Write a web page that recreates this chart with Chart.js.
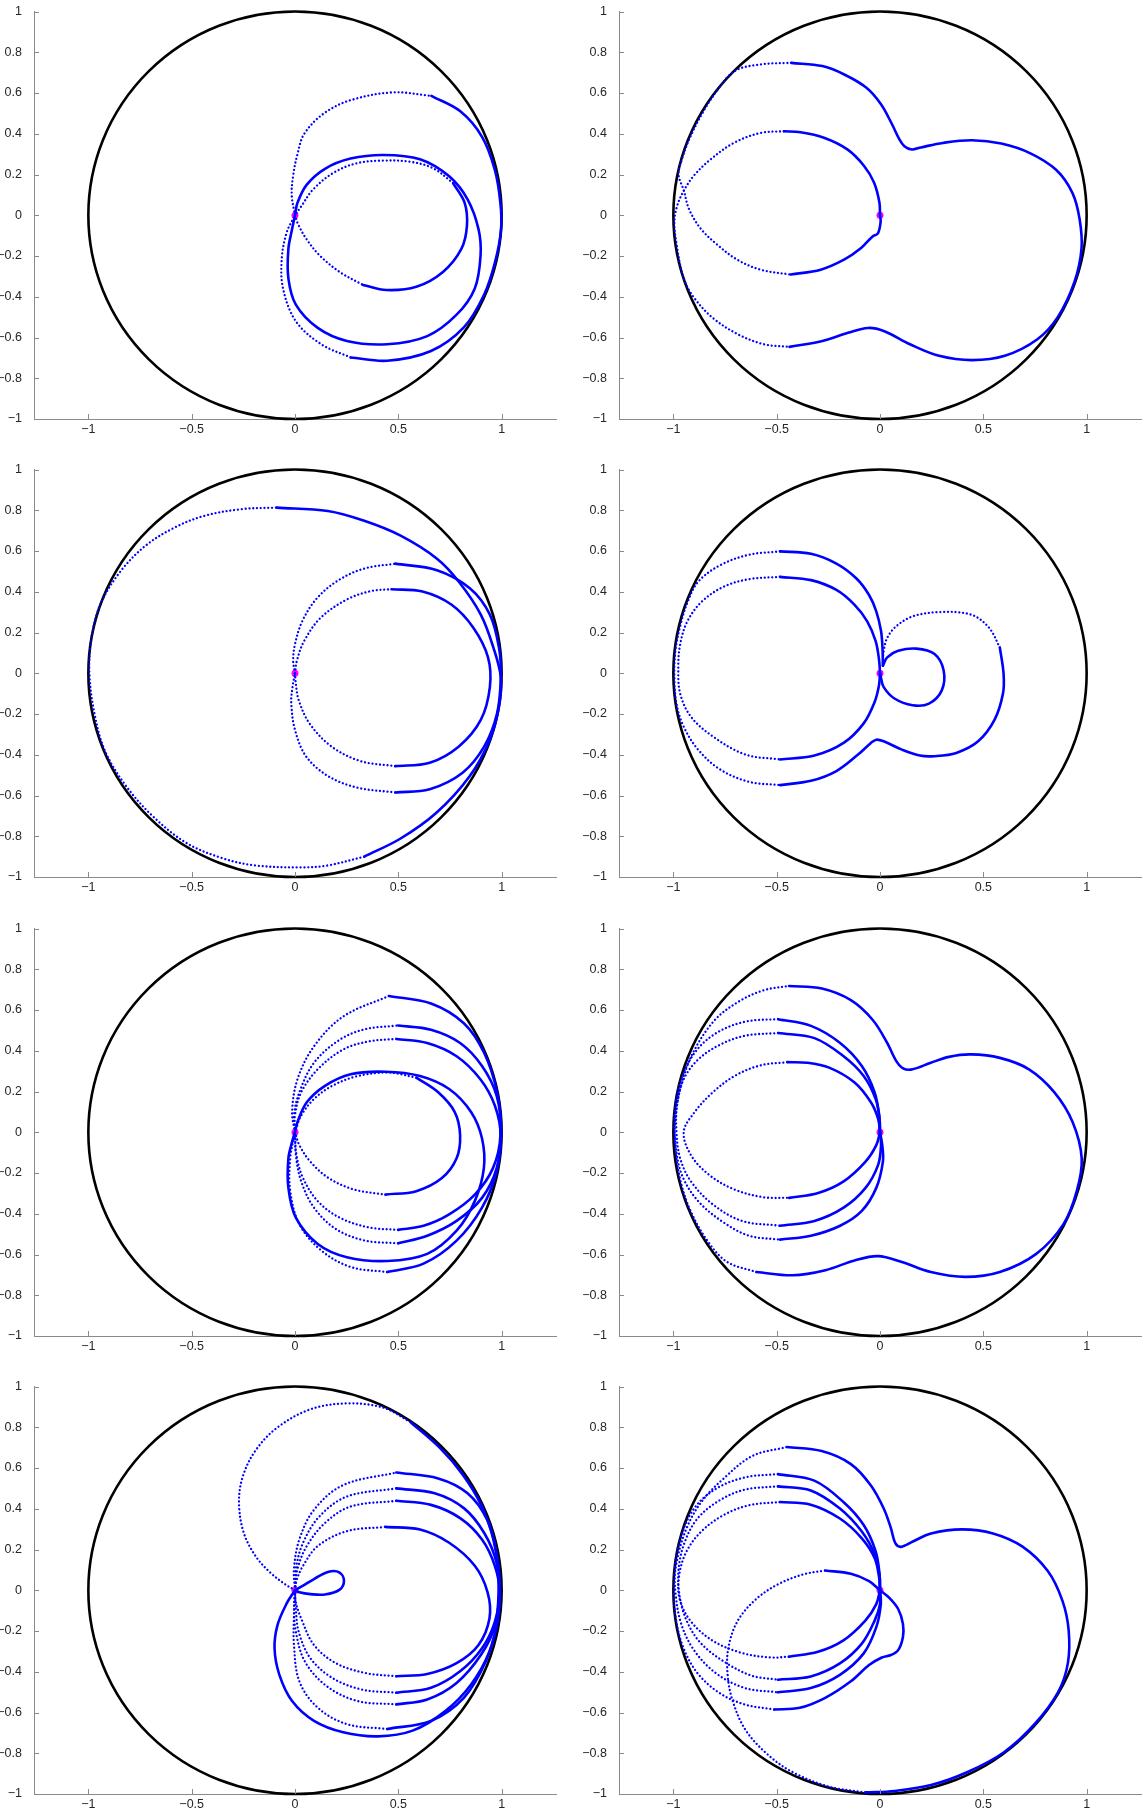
<!DOCTYPE html>
<html>
<head>
<meta charset="utf-8">
<script src="https://cdn.jsdelivr.net/npm/chart.js@4.4.1/dist/chart.umd.min.js"></script>
<style>
  html, body { margin: 0; padding: 0; background: #fff; overflow: hidden; }
  #page { position: relative; width: 1146px; height: 1815px; }
  .panel { position: absolute; }
</style>
</head>
<body>
<div id="page"></div>
<script>
// axes
const X_TICKS = [-1, -0.5, 0, 0.5, 1];
const Y_TICKS = [-1, -0.8, -0.6, -0.4, -0.2, 0, 0.2, 0.4, 0.6, 0.8, 1];
const X_LIM = [-1.263, 1.263];
const Y_LIM = [-1, 1];
const START = [[0, 0]];
const UNIT_R = 1;

// panel 1 (top left)
const P1_DOTTED = [
  [[0,0],[-0.016,0.1],[-0.008,0.2],[0.012,0.3],[0.045,0.4],[0.14,0.5],[0.27,0.565],[0.472,0.603],[0.66,0.586]],
  [[0.269,-0.698],[0.127,-0.633],[0.004,-0.52],[-0.058,-0.359],[-0.064,-0.213],[-0.04,-0.084],[0,0]],
  [[0,0],[0.015,-0.044],[0.055,-0.116],[0.119,-0.197],[0.216,-0.278],[0.329,-0.342]],
  [[0.765,0.158],[0.668,0.231],[0.555,0.263],[0.426,0.268],[0.297,0.255],[0.184,0.207],[0.087,0.126],[0.031,0.045],[0,0]]
];
const P1_SOLID = [
  [[0.66,0.586],[0.8,0.51],[0.905,0.385],[0.967,0.223],[0.994,0.06],[0.997,-0.07],[0.968,-0.23],[0.915,-0.39],[0.817,-0.55],[0.658,-0.666],[0.446,-0.714],[0.269,-0.698]],
  [[0,0],[0.012,0.061],[0.057,0.15],[0.145,0.228],[0.269,0.278],[0.428,0.296],[0.605,0.275],[0.746,0.191],[0.835,0.078],[0.888,-0.068],[0.898,-0.197],[0.87,-0.359],[0.782,-0.488],[0.64,-0.593],[0.446,-0.633],[0.251,-0.617],[0.11,-0.553],[0.004,-0.439],[-0.032,-0.31],[-0.032,-0.165],[-0.014,-0.068],[0,0]],
  [[0.329,-0.342],[0.442,-0.367],[0.587,-0.351],[0.716,-0.278],[0.805,-0.165],[0.832,-0.052],[0.821,0.061],[0.765,0.158]]
];

// panel 2 (top right)
const P2_DOTTED = [
  [[-0.465,0.412],[-0.578,0.404],[-0.707,0.355],[-0.82,0.274],[-0.901,0.194],[-0.949,0.121],[-0.981,0.048],[-0.995,-0.03],[-0.986,-0.132],[-0.95,-0.31],[-0.898,-0.407],[-0.809,-0.504],[-0.686,-0.585],[-0.562,-0.633],[-0.438,-0.646]],
  [[-0.429,0.748],[-0.58,0.74],[-0.703,0.708],[-0.79,0.61],[-0.86,0.5],[-0.92,0.38],[-0.96,0.27],[-0.975,0.2],[-0.949,0.121],[-0.925,0.032],[-0.868,-0.065],[-0.787,-0.145],[-0.691,-0.218],[-0.578,-0.267],[-0.432,-0.291]]
];
const P2_SOLID = [
  [[0,0],[-0.003,0.064],[-0.029,0.161],[-0.077,0.242],[-0.158,0.323],[-0.271,0.38],[-0.384,0.407],[-0.465,0.412]],
  [[-0.438,-0.646],[-0.279,-0.617],[-0.155,-0.577],[-0.058,-0.553],[0.021,-0.569],[0.145,-0.633],[0.286,-0.69],[0.445,-0.711],[0.604,-0.69],[0.76,-0.61],[0.86,-0.5],[0.94,-0.33],[0.975,-0.165],[0.966,-0.02],[0.931,0.11],[0.852,0.223],[0.728,0.304],[0.587,0.352],[0.445,0.368],[0.304,0.355],[0.198,0.333],[0.154,0.323],[0.118,0.339],[0.092,0.376],[0.057,0.449],[0.004,0.546],[-0.067,0.627],[-0.173,0.691],[-0.279,0.732],[-0.429,0.748]],
  [[-0.432,-0.291],[-0.287,-0.267],[-0.174,-0.218],[-0.093,-0.162],[-0.037,-0.105],[-0.01,-0.089],[0.003,-0.032],[0,0]]
];

// panel 3 (second row left)
const P3_DOTTED = [
  [[0.335,-0.9],[0.159,-0.943],[0.035,-0.953],[-0.194,-0.943],[-0.36,-0.905],[-0.53,-0.83],[-0.69,-0.7],[-0.82,-0.55],[-0.92,-0.38],[-0.97,-0.2],[-0.995,0],[-0.985,0.17],[-0.943,0.336],[-0.846,0.498],[-0.722,0.627],[-0.581,0.716],[-0.441,0.772],[-0.264,0.805],[-0.088,0.813]],
  [[0,0],[-0.009,0.061],[0,0.142],[0.035,0.255],[0.106,0.368],[0.211,0.457],[0.335,0.514],[0.485,0.538]],
  [[0.485,-0.585],[0.3,-0.561],[0.159,-0.504],[0.053,-0.407],[0,-0.278],[-0.018,-0.149],[-0.012,-0.068],[0,0]],
  [[0,0],[0.009,0.061],[0.044,0.158],[0.123,0.271],[0.247,0.36],[0.37,0.404],[0.467,0.412]],
  [[0.485,-0.456],[0.317,-0.431],[0.176,-0.359],[0.07,-0.246],[0.018,-0.132],[0.004,-0.052],[0,0]]
];
const P3_SOLID = [
  [[-0.088,0.813],[0.159,0.796],[0.335,0.748],[0.511,0.675],[0.687,0.562],[0.793,0.449],[0.899,0.288],[0.96,0.126],[0.996,-0.019],[0.987,-0.165],[0.943,-0.326],[0.846,-0.504],[0.687,-0.682],[0.511,-0.811],[0.335,-0.9]],
  [[0.485,0.538],[0.687,0.506],[0.846,0.417],[0.943,0.288],[0.987,0.126],[0.996,-0.019],[0.978,-0.197],[0.916,-0.359],[0.811,-0.488],[0.652,-0.569],[0.485,-0.585]],
  [[0.467,0.412],[0.617,0.401],[0.758,0.336],[0.863,0.223],[0.934,0.078],[0.943,-0.068],[0.899,-0.229],[0.793,-0.359],[0.652,-0.439],[0.485,-0.456]]
];

// panel 4 (second row right)
const P4_DOTTED = [
  [[-0.484,0.598],[-0.633,0.582],[-0.774,0.53],[-0.88,0.449],[-0.93,0.352],[-0.965,0.239],[-0.99,0.11],[-0.995,-0.019],[-0.985,-0.149],[-0.95,-0.262],[-0.88,-0.375],[-0.774,-0.472],[-0.633,-0.533],[-0.484,-0.549]],
  [[0.58,0.126],[0.528,0.223],[0.44,0.288],[0.281,0.3],[0.158,0.279],[0.079,0.231],[0.035,0.174],[0.018,0.11],[0.014,0.061],[0.014,0.037]],
  [[-0.484,0.473],[-0.633,0.462],[-0.756,0.425],[-0.862,0.352],[-0.932,0.255],[-0.967,0.142],[-0.976,0.029],[-0.967,-0.1],[-0.915,-0.213],[-0.809,-0.31],[-0.651,-0.399],[-0.484,-0.423]]
];
const P4_SOLID = [
  [[0.014,0.037],[0.012,0.126],[0.005,0.207],[-0.018,0.304],[-0.053,0.384],[-0.114,0.465],[-0.211,0.538],[-0.334,0.586],[-0.484,0.598]],
  [[-0.484,-0.549],[-0.334,-0.528],[-0.211,-0.48],[-0.106,-0.399],[-0.044,-0.342],[-0.018,-0.326],[0.018,-0.334],[0.106,-0.375],[0.193,-0.404],[0.264,-0.407],[0.369,-0.391],[0.475,-0.334],[0.554,-0.229],[0.595,-0.1],[0.598,-0.003],[0.58,0.126]],
  [[0.014,0.037],[0.035,0.078],[0.088,0.11],[0.176,0.121],[0.264,0.094],[0.308,0.013],[0.299,-0.084],[0.237,-0.149],[0.158,-0.157],[0.07,-0.124],[0.018,-0.068],[0.004,-0.019],[0,0]],
  [[0,0],[-0.004,0.061],[-0.021,0.158],[-0.062,0.255],[-0.123,0.336],[-0.211,0.409],[-0.334,0.457],[-0.484,0.473]],
  [[-0.484,-0.423],[-0.317,-0.404],[-0.176,-0.342],[-0.079,-0.246],[-0.026,-0.141],[-0.005,-0.06],[0,0]]
];

// panel 5 (third row left)
const P5_DOTTED = [
  [[0,0],[-0.014,0.099],[0.012,0.26],[0.092,0.422],[0.233,0.568],[0.454,0.669]],
  [[0.446,-0.686],[0.269,-0.661],[0.127,-0.58],[0.021,-0.451],[-0.023,-0.289],[-0.023,-0.128],[0,0]],
  [[0,0],[-0.005,0.082],[0.021,0.196],[0.092,0.341],[0.216,0.454],[0.34,0.506],[0.499,0.524]],
  [[0.499,-0.545],[0.34,-0.532],[0.198,-0.475],[0.092,-0.37],[0.03,-0.241],[0.004,-0.112],[0,0]],
  [[0,0],[0,0.082],[0.03,0.196],[0.11,0.309],[0.233,0.406],[0.357,0.446],[0.49,0.458]],
  [[0.499,-0.479],[0.357,-0.467],[0.216,-0.419],[0.11,-0.338],[0.039,-0.225],[0.007,-0.112],[0,0]],
  [[0,0],[0.021,-0.063],[0.074,-0.144],[0.163,-0.225],[0.286,-0.281],[0.437,-0.306]],
  [[0.587,0.268],[0.454,0.293],[0.304,0.276],[0.18,0.228],[0.092,0.163],[0.03,0.082],[0,0]]
];
const P5_SOLID = [
  [[0.454,0.669],[0.658,0.632],[0.817,0.535],[0.915,0.39],[0.978,0.196],[0.997,0.002],[0.976,-0.192],[0.905,-0.37],[0.782,-0.532],[0.622,-0.645],[0.446,-0.686]],
  [[0.499,0.524],[0.658,0.503],[0.799,0.438],[0.905,0.325],[0.976,0.179],[0.997,0.002],[0.976,-0.176],[0.905,-0.322],[0.782,-0.435],[0.64,-0.508],[0.499,-0.545]],
  [[0.49,0.458],[0.64,0.438],[0.782,0.373],[0.897,0.26],[0.967,0.131],[0.994,-0.015],[0.958,-0.176],[0.87,-0.306],[0.746,-0.403],[0.622,-0.459],[0.499,-0.479]],
  [[0,0],[0.012,0.05],[0.057,0.147],[0.145,0.228],[0.269,0.285],[0.437,0.297],[0.605,0.276],[0.746,0.212],[0.852,0.099],[0.905,-0.031],[0.914,-0.176],[0.87,-0.338],[0.782,-0.483],[0.64,-0.597],[0.446,-0.632],[0.251,-0.613],[0.11,-0.548],[0.004,-0.419],[-0.032,-0.273],[-0.032,-0.128],[-0.014,-0.047],[0,0]],
  [[0.437,-0.306],[0.587,-0.289],[0.711,-0.225],[0.782,-0.128],[0.799,-0.015],[0.773,0.099],[0.693,0.196],[0.587,0.268]]
];

// panel 6 (third row right)
const P6_DOTTED = [
  [[-0.598,-0.686],[-0.739,-0.637],[-0.83,-0.54],[-0.915,-0.39],[-0.965,-0.24],[-0.99,-0.08],[-0.99,0.07],[-0.96,0.24],[-0.9,0.4],[-0.8,0.55],[-0.686,0.64],[-0.563,0.697],[-0.44,0.718]],
  [[-0.493,0.555],[-0.651,0.543],[-0.792,0.487],[-0.897,0.39],[-0.967,0.244],[-0.994,0.099],[-0.989,-0.063],[-0.959,-0.209],[-0.88,-0.338],[-0.756,-0.443],[-0.633,-0.508],[-0.484,-0.527]],
  [[-0.493,0.487],[-0.651,0.474],[-0.774,0.43],[-0.88,0.357],[-0.95,0.26],[-0.982,0.131],[-0.985,0.002],[-0.967,-0.128],[-0.915,-0.241],[-0.809,-0.354],[-0.668,-0.435],[-0.484,-0.459]],
  [[-0.449,0.344],[-0.58,0.328],[-0.704,0.276],[-0.809,0.196],[-0.897,0.099],[-0.95,0.002],[-0.915,-0.112],[-0.827,-0.209],[-0.704,-0.281],[-0.563,-0.319],[-0.44,-0.322]]
];
const P6_SOLID = [
  [[-0.44,0.718],[-0.281,0.705],[-0.141,0.648],[-0.035,0.551],[0.035,0.438],[0.079,0.349],[0.114,0.312],[0.158,0.309],[0.246,0.341],[0.334,0.37],[0.44,0.382],[0.58,0.365],[0.721,0.309],[0.844,0.196],[0.932,0.05],[0.976,-0.128],[0.952,-0.289],[0.888,-0.451],[0.756,-0.597],[0.58,-0.686],[0.413,-0.71],[0.246,-0.686],[0.106,-0.637],[-0.009,-0.608],[-0.123,-0.629],[-0.264,-0.677],[-0.422,-0.702],[-0.598,-0.686]],
  [[0,0],[-0.004,0.082],[-0.026,0.196],[-0.088,0.325],[-0.193,0.438],[-0.334,0.522],[-0.493,0.555]],
  [[-0.484,-0.527],[-0.334,-0.508],[-0.193,-0.459],[-0.088,-0.386],[-0.018,-0.273],[0.014,-0.144],[0.011,-0.063],[0,0]],
  [[0,0],[-0.002,0.066],[-0.021,0.163],[-0.079,0.276],[-0.176,0.373],[-0.317,0.462],[-0.493,0.487]],
  [[-0.484,-0.459],[-0.317,-0.435],[-0.176,-0.37],[-0.07,-0.273],[-0.009,-0.16],[0.005,-0.063],[0,0]],
  [[0,0],[-0.009,0.066],[-0.044,0.147],[-0.123,0.244],[-0.246,0.317],[-0.352,0.341],[-0.449,0.344]],
  [[-0.44,-0.322],[-0.299,-0.298],[-0.176,-0.241],[-0.07,-0.144],[-0.018,-0.063],[0,0]]
];

// panel 7 (bottom left)
const P7_DOTTED = [
  [[0,0],[-0.05,0.031],[-0.12,0.087],[-0.191,0.168],[-0.248,0.282],[-0.271,0.427],[-0.253,0.557],[-0.191,0.686],[-0.085,0.799],[0.074,0.888],[0.251,0.917],[0.428,0.896],[0.56,0.825]],
  [[0,0],[0.008,0.05],[0.039,0.12],[0.11,0.217],[0.251,0.29],[0.437,0.311]],
  [[0.49,-0.422],[0.34,-0.406],[0.198,-0.358],[0.092,-0.269],[0.03,-0.139],[0.004,-0.058],[0,0]],
  [[0,0],[0.012,0.104],[0.057,0.217],[0.145,0.33],[0.269,0.411],[0.49,0.439]],
  [[0.49,-0.503],[0.322,-0.487],[0.18,-0.43],[0.074,-0.333],[0.018,-0.204],[0.004,-0.091],[0,0]],
  [[0,0],[0.004,0.104],[0.039,0.233],[0.118,0.362],[0.251,0.46],[0.49,0.5]],
  [[0.49,-0.56],[0.304,-0.544],[0.154,-0.471],[0.048,-0.35],[0.004,-0.204],[-0.005,-0.091],[0,0]],
  [[0,0],[-0.005,0.104],[0.021,0.249],[0.092,0.395],[0.233,0.516],[0.49,0.578]],
  [[0.446,-0.681],[0.251,-0.657],[0.11,-0.576],[0.021,-0.447],[-0.005,-0.269],[-0.005,-0.123],[0,0]]
];
const P7_SOLID = [
  [[0.56,0.825],[0.7,0.7],[0.81,0.57],[0.9,0.42],[0.96,0.25],[0.99,0.06],[0.985,-0.123],[0.941,-0.301],[0.852,-0.463],[0.729,-0.592],[0.569,-0.689],[0.401,-0.717],[0.233,-0.697],[0.092,-0.641],[-0.014,-0.544],[-0.076,-0.414],[-0.099,-0.285],[-0.085,-0.172],[-0.041,-0.066],[0,0]],
  [[0,0],[0.039,0.023],[0.092,0.055],[0.163,0.091],[0.216,0.087],[0.237,0.047],[0.216,0.003],[0.145,-0.021],[0.074,-0.019],[0.021,-0.01],[0,0]],
  [[0.437,0.311],[0.605,0.298],[0.746,0.233],[0.87,0.12],[0.932,-0.01],[0.941,-0.139],[0.888,-0.269],[0.782,-0.358],[0.64,-0.411],[0.49,-0.422]],
  [[0.49,0.439],[0.658,0.419],[0.799,0.354],[0.905,0.249],[0.967,0.12],[0.99,-0.01],[0.967,-0.155],[0.905,-0.285],[0.799,-0.398],[0.658,-0.479],[0.49,-0.503]],
  [[0.49,0.5],[0.676,0.476],[0.817,0.403],[0.915,0.282],[0.975,0.136],[0.985,-0.01],[0.968,-0.172],[0.9,-0.317],[0.782,-0.455],[0.64,-0.536],[0.49,-0.56]],
  [[0.49,0.578],[0.693,0.549],[0.835,0.476],[0.93,0.346],[0.975,0.184],[0.99,0.006],[0.975,-0.172],[0.923,-0.35],[0.817,-0.528],[0.658,-0.641],[0.446,-0.681]]
];

// panel 8 (bottom right)
const P8_DOTTED = [
  [[-0.512,-0.585],[-0.653,-0.561],[-0.777,-0.504],[-0.883,-0.407],[-0.953,-0.278],[-0.989,-0.132],[-0.997,0.013],[-0.98,0.158],[-0.936,0.304],[-0.865,0.433],[-0.759,0.546],[-0.618,0.659],[-0.451,0.703]],
  [[-0.071,-0.992],[-0.247,-0.964],[-0.424,-0.892],[-0.547,-0.803],[-0.653,-0.682],[-0.715,-0.536],[-0.738,-0.407],[-0.733,-0.278],[-0.688,-0.149],[-0.6,-0.044],[-0.494,0.029],[-0.371,0.078],[-0.265,0.097]],
  [[-0.494,0.57],[-0.653,0.554],[-0.794,0.498],[-0.9,0.401],[-0.967,0.251],[-0.992,0.116],[-0.989,-0.019],[-0.962,-0.165],[-0.9,-0.294],[-0.794,-0.407],[-0.653,-0.48],[-0.494,-0.501]],
  [[-0.494,0.51],[-0.653,0.494],[-0.777,0.441],[-0.883,0.352],[-0.944,0.239],[-0.974,0.11],[-0.971,-0.019],[-0.936,-0.149],[-0.865,-0.262],[-0.741,-0.359],[-0.618,-0.42],[-0.494,-0.439]],
  [[-0.485,0.433],[-0.635,0.417],[-0.759,0.368],[-0.865,0.288],[-0.936,0.191],[-0.971,0.078],[-0.971,-0.036],[-0.918,-0.149],[-0.812,-0.246],[-0.671,-0.307],[-0.53,-0.33],[-0.441,-0.326]]
];
const P8_SOLID = [
  [[0,0],[0.044,-0.036],[0.088,-0.092],[0.111,-0.165],[0.111,-0.229],[0.088,-0.294],[0.053,-0.318],[0.009,-0.33],[-0.053,-0.367],[-0.141,-0.447],[-0.265,-0.528],[-0.388,-0.577],[-0.512,-0.585]],
  [[-0.451,0.703],[-0.282,0.683],[-0.141,0.619],[-0.044,0.514],[0.018,0.401],[0.053,0.304],[0.074,0.231],[0.102,0.213],[0.159,0.239],[0.247,0.279],[0.397,0.299],[0.547,0.279],[0.688,0.215],[0.812,0.094],[0.883,-0.052],[0.913,-0.197],[0.909,-0.359],[0.862,-0.5],[0.75,-0.655],[0.6,-0.795],[0.424,-0.892],[0.247,-0.956],[0.071,-0.985],[-0.071,-0.992]],
  [[-0.265,0.097],[-0.141,0.081],[-0.053,0.045],[0,0]],
  [[0,0],[-0.002,0.078],[-0.021,0.191],[-0.079,0.32],[-0.177,0.433],[-0.318,0.538],[-0.494,0.57]],
  [[-0.494,-0.501],[-0.335,-0.48],[-0.194,-0.415],[-0.079,-0.31],[-0.018,-0.181],[0.004,-0.068],[0,0]],
  [[0,0],[-0.002,0.069],[-0.025,0.174],[-0.088,0.288],[-0.194,0.401],[-0.335,0.49],[-0.494,0.51]],
  [[-0.494,-0.439],[-0.335,-0.423],[-0.194,-0.359],[-0.088,-0.262],[-0.026,-0.149],[0,-0.068],[0,0]],
  [[0,0],[-0.004,0.061],[-0.026,0.158],[-0.088,0.255],[-0.194,0.352],[-0.335,0.42],[-0.485,0.433]],
  [[-0.441,-0.326],[-0.3,-0.302],[-0.177,-0.246],[-0.071,-0.149],[-0.018,-0.068],[0,0]]
];

const PANELS = [
  {dotted: P1_DOTTED, solid: P1_SOLID},
  {dotted: P2_DOTTED, solid: P2_SOLID},
  {dotted: P3_DOTTED, solid: P3_SOLID},
  {dotted: P4_DOTTED, solid: P4_SOLID},
  {dotted: P5_DOTTED, solid: P5_SOLID},
  {dotted: P6_DOTTED, solid: P6_SOLID},
  {dotted: P7_DOTTED, solid: P7_SOLID},
  {dotted: P8_DOTTED, solid: P8_SOLID}
];

const BLUE = '#0000ff';
const ROW_TOP = [0, 458, 917, 1375];   // canvas tops, plot box starts 7px lower
const COL = [
  {left: 0, axisW: 34, width: 566},
  {left: 573, axisW: 46, width: 572}
];

Chart.defaults.font.family = '"Liberation Sans", Arial, Helvetica, sans-serif';
Chart.defaults.font.size = 12.5;
Chart.defaults.color = '#262626';

const fmt = v => String(v).replace('-', '\u2212');

// unit circle under the curves + MATLAB style inward ticks
const frame = {
  id: 'frame',
  beforeDatasetsDraw(chart) {
    const {ctx} = chart;
    const x = chart.scales.x, y = chart.scales.y;
    const cx = x.getPixelForValue(0), cy = y.getPixelForValue(0);
    const rx = x.getPixelForValue(UNIT_R) - cx;
    const ry = cy - y.getPixelForValue(UNIT_R);
    ctx.save();
    ctx.beginPath();
    ctx.ellipse(cx, cy, rx, ry, 0, 0, Math.PI * 2);
    ctx.lineWidth = 2.6;
    ctx.strokeStyle = '#000';
    ctx.stroke();
    ctx.restore();
  },
  afterDraw(chart) {
    const {ctx} = chart;
    const x = chart.scales.x, y = chart.scales.y;
    ctx.save();
    ctx.strokeStyle = '#8a8a8a';
    ctx.lineWidth = 1;
    ctx.beginPath();
    X_TICKS.forEach(v => {
      const px = Math.round(x.getPixelForValue(v)) + 0.5;
      ctx.moveTo(px, y.bottom);
      ctx.lineTo(px, y.bottom - 5);
    });
    Y_TICKS.forEach(v => {
      const py = Math.round(y.getPixelForValue(v)) + 0.5;
      ctx.moveTo(x.left, py);
      ctx.lineTo(x.left + 5, py);
    });
    ctx.stroke();
    ctx.restore();
  }
};

function makeDatasets(p) {
  const ds = [];
  p.dotted.forEach(line => ds.push({
    data: line, showLine: true, pointRadius: 0, tension: 0.35,
    borderColor: BLUE, borderWidth: 2.3, borderDash: [0.01, 3.8],
    borderCapStyle: 'round', borderJoinStyle: 'round'
  }));
  p.solid.forEach(line => ds.push({
    data: line, showLine: true, pointRadius: 0, tension: 0.35,
    borderColor: BLUE, borderWidth: 2.6,
    borderCapStyle: 'round', borderJoinStyle: 'round'
  }));
  ds.push({
    data: START, showLine: false, pointRadius: 3.5,
    pointBackgroundColor: '#ff00ff', pointBorderWidth: 0
  });
  return ds;
}

const page = document.getElementById('page');
PANELS.forEach((p, i) => {
  const col = COL[i % 2];
  const top = ROW_TOP[Math.floor(i / 2)];
  const wrap = document.createElement('div');
  wrap.className = 'panel';
  wrap.style.left = col.left + 'px';
  wrap.style.top = top + 'px';
  const cv = document.createElement('canvas');
  cv.width = col.width;
  cv.height = 459;
  wrap.appendChild(cv);
  page.appendChild(wrap);

  new Chart(cv, {
    type: 'scatter',
    data: {datasets: makeDatasets(p)},
    options: {
      responsive: false,
      animation: false,
      events: [],
      layout: {padding: {top: 7, right: col.width - col.axisW - 522, left: 0, bottom: 0}},
      plugins: {legend: {display: false}, tooltip: {enabled: false}},
      scales: {
        x: {
          type: 'linear', min: X_LIM[0], max: X_LIM[1],
          grid: {display: false},
          border: {display: true, color: '#8a8a8a', width: 1},
          afterBuildTicks: s => { s.ticks = X_TICKS.map(v => ({value: v})); },
          afterFit: s => { s.height = 40; },
          ticks: {padding: -5, maxRotation: 0, callback: v => fmt(v)}
        },
        y: {
          type: 'linear', min: Y_LIM[0], max: Y_LIM[1],
          grid: {display: false},
          border: {display: true, color: '#8a8a8a', width: 1},
          afterBuildTicks: s => { s.ticks = Y_TICKS.map(v => ({value: v})); },
          afterFit: s => { s.width = col.axisW; },
          ticks: {padding: 4, callback: v => fmt(v)}
        }
      }
    },
    plugins: [frame]
  });
});
</script>
</body>
</html>
